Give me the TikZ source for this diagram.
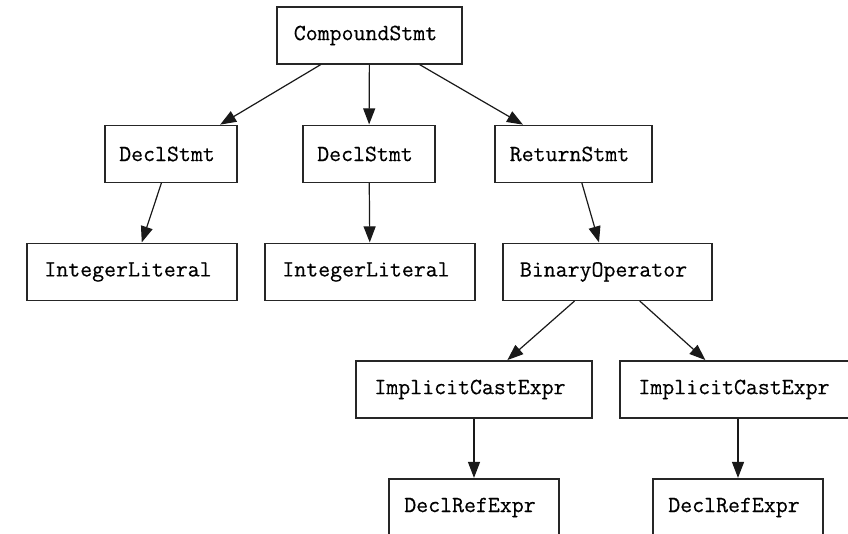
\documentclass[tikz,border=0pt]{standalone}
\usepackage{fontspec}
\usetikzlibrary{arrows.meta}
% slightly heavier typewriter face for the node labels
\newfontfamily\astfont{Latin Modern Mono}[FakeBold=0.35]
% node label, nudged slightly left of the box centre
\newcommand{\astlabel}[1]{\kern-8pt#1}
\begin{document}
\begin{tikzpicture}[x=1pt,y=-1pt,
  astnode/.style={draw=black!85, line width=1.2pt, rectangle, inner sep=0pt,
    minimum height=57pt, font=\astfont\fontsize{23.2}{26}\selectfont},
  edge/.style={draw=black!90, line width=1.2pt,
    -{Triangle[length=16pt,width=12pt]}, shorten >=0.5pt}]
  \clip (0,0) rectangle (848,534);
  \fill[white] (0,0) rectangle (848,534);

  % tree nodes
  \node[astnode, minimum width=185pt] (root)  at (369.5,35.5) {\astlabel{CompoundStmt}};
  \node[astnode, minimum width=132pt] (decl1) at (171,154)    {\astlabel{DeclStmt}};
  \node[astnode, minimum width=132pt] (decl2) at (369,154)    {\astlabel{DeclStmt}};
  \node[astnode, minimum width=157pt] (ret)   at (573.5,154)  {\astlabel{ReturnStmt}};
  \node[astnode, minimum width=210pt] (lit1)  at (132,272)    {\astlabel{IntegerLiteral}};
  \node[astnode, minimum width=210pt] (lit2)  at (370,272)    {\astlabel{IntegerLiteral}};
  \node[astnode, minimum width=209pt] (binop) at (607.5,272)  {\astlabel{BinaryOperator}};
  \node[astnode, minimum width=236pt] (cast1) at (474,389.5)  {\astlabel{ImplicitCastExpr}};
  \node[astnode, minimum width=236pt] (cast2) at (738,389.5)  {\astlabel{ImplicitCastExpr}};
  \node[astnode, minimum width=170pt] (ref1)  at (474,507.5)  {\astlabel{DeclRefExpr}};
  \node[astnode, minimum width=170pt] (ref2)  at (738,507.5)  {\astlabel{DeclRefExpr}};

  % parent -> child edges
  \draw[edge] (root)  -- (decl1);
  \draw[edge] (root)  -- (decl2);
  \draw[edge] (root)  -- (ret);
  \draw[edge] (decl1) -- (lit1);
  \draw[edge] (decl2) -- (lit2);
  \draw[edge] (ret)   -- (binop);
  \draw[edge] (binop) -- (cast1);
  \draw[edge] (binop) -- (cast2);
  \draw[edge] (cast1) -- (ref1);
  \draw[edge] (cast2) -- (ref2);
\end{tikzpicture}
\end{document}
